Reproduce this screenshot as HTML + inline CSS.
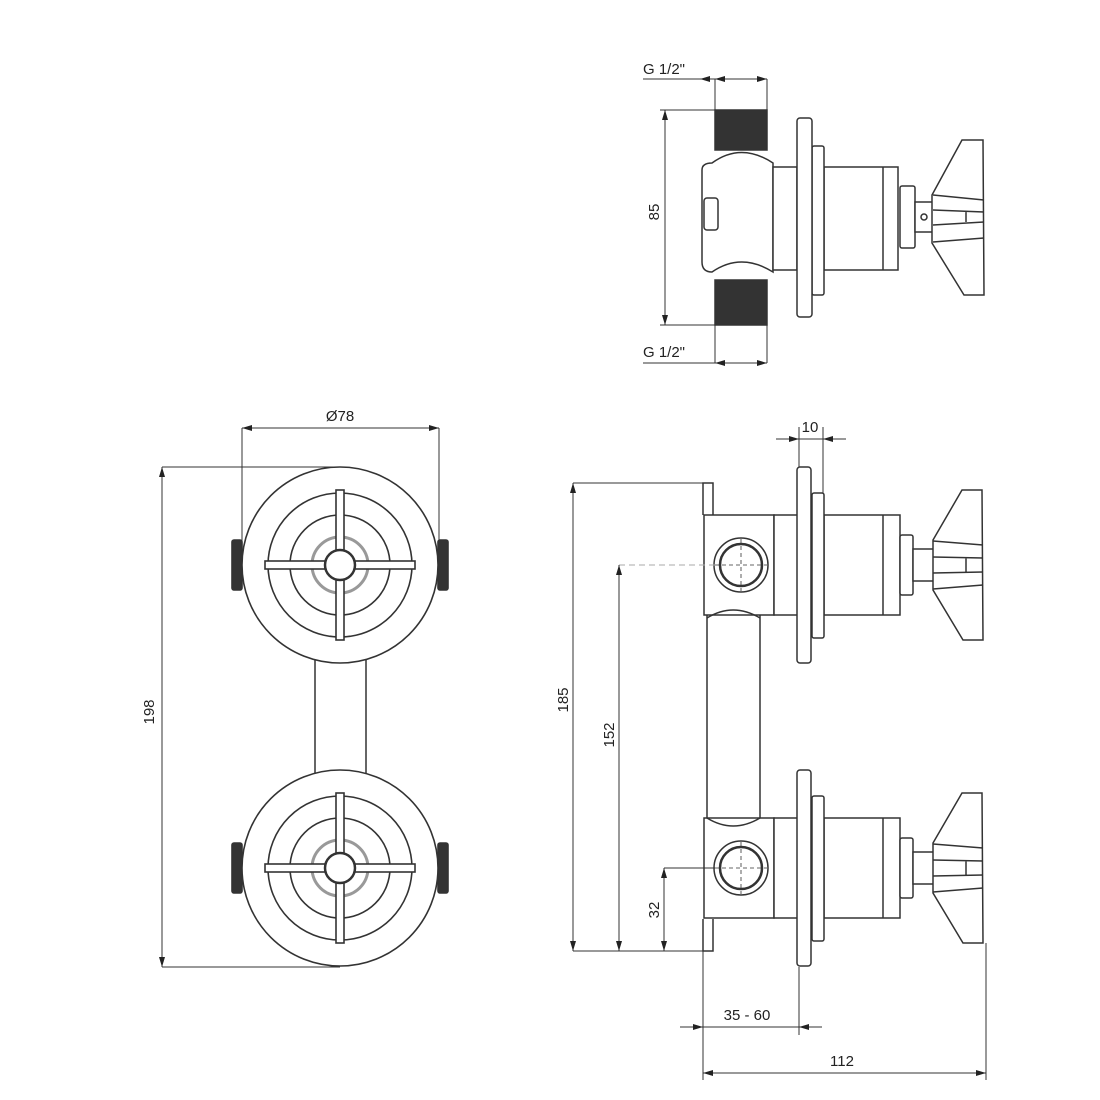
<!DOCTYPE html>
<html><head><meta charset="utf-8"><style>
html,body{margin:0;padding:0;background:#fff;width:1100px;height:1100px;overflow:hidden}
text{font-family:"Liberation Sans",sans-serif;font-size:15px;fill:#222}
</style></head><body>
<svg width="1100" height="1100" viewBox="0 0 1100 1100" xmlns="http://www.w3.org/2000/svg">
<defs>
<marker id="a" viewBox="0 0 10 6" refX="10" refY="3" markerWidth="10" markerHeight="6" orient="auto-start-reverse" markerUnits="userSpaceOnUse"><path d="M0,0 L10,3 L0,6z" fill="#222"/></marker>
<g id="knob" fill="none" stroke="#333" stroke-width="1.6">
<rect x="-108" y="-25" width="10" height="50" rx="2" fill="#333"/>
<rect x="98" y="-25" width="10" height="50" rx="2" fill="#333"/>
<circle r="98" fill="#fff"/>
<circle r="72"/>
<circle r="50"/>
<circle r="28" stroke="#999" stroke-width="3"/>
<rect x="-75" y="-4" width="150" height="8" fill="#fff"/>
<rect x="-4" y="-75" width="8" height="150" fill="#fff"/>
<circle r="15" fill="#fff" stroke-width="2.5"/>
</g>
<g id="valve" fill="#fff" stroke="#333" stroke-width="1.5">
<rect x="704" y="-50" width="70" height="100"/>
<circle cx="741" cy="0" r="27"/>
<circle cx="741" cy="0" r="21" stroke-width="2.5"/>
<line x1="715" y1="0" x2="767" y2="0" stroke-width="0.8" stroke-dasharray="4 3"/>
<line x1="741" y1="-26" x2="741" y2="26" stroke-width="0.8" stroke-dasharray="4 3"/>
<rect x="774" y="-50" width="24" height="100"/>
<rect x="824" y="-50" width="76" height="100"/>
<line x1="883" y1="-50" x2="883" y2="50"/>
<rect x="812" y="-72" width="12" height="145" rx="2"/>
<rect x="797" y="-98" width="14" height="196" rx="3"/>
<rect x="900" y="-30" width="13" height="60" rx="2"/>
<rect x="913" y="-16" width="24" height="32"/>
<path d="M933,-25 L962,-75 L982,-75 L983,75 L963,75 L933,25z"/>
<path d="M933,-24 L983,-20 M933,-8 L983,-7 M933,8 L983,7 M933,24 L983,20 M966,-7 L966,8" fill="none"/>
</g>
</defs>

<!-- TOP VIEW -->
<g fill="none" stroke="#333" stroke-width="1.5">
<rect x="715" y="110" width="52" height="40" fill="#333"/>
<rect x="715" y="280" width="52" height="45" fill="#333"/>
<path d="M702,170 Q702,163 712,163 Q741,142 773,163 L773,272 Q741,252 712,272 Q702,272 702,262z" fill="#fff"/>
<rect x="704" y="198" width="14" height="32" rx="3"/>
<rect x="773" y="167" width="24" height="103" fill="#fff"/>
<rect x="824" y="167" width="74" height="103" fill="#fff"/>
<line x1="883" y1="167" x2="883" y2="270"/>
<rect x="812" y="146" width="12" height="149" rx="2" fill="#fff"/>
<rect x="797" y="118" width="15" height="199" rx="3" fill="#fff"/>
<rect x="900" y="186" width="15" height="62" rx="2" fill="#fff"/>
<rect x="915" y="202" width="20" height="30" fill="#fff"/>
<circle cx="924" cy="217" r="3"/>
<path d="M932,195 L962,140 L983,140 L984,295 L964,295 L932,243z" fill="#fff"/>
<path d="M933,195 L984,200 M933,210 L984,212 M933,225 L984,222 M933,242 L984,238 M966,212 L966,222"/>
</g>
<g stroke="#333" stroke-width="1" fill="none">
<line x1="643" y1="79" x2="767" y2="79"/>
<line x1="715" y1="79" x2="700" y2="79" marker-end="url(#a)"/>
<line x1="715" y1="79" x2="730" y2="79" marker-start="url(#a)"/>
<line x1="767" y1="79" x2="752" y2="79" marker-start="url(#a)"/>
<line x1="715" y1="79" x2="715" y2="110"/><line x1="767" y1="79" x2="767" y2="110"/>
<line x1="643" y1="363" x2="767" y2="363"/>
<line x1="715" y1="363" x2="730" y2="363" marker-start="url(#a)"/>
<line x1="767" y1="363" x2="752" y2="363" marker-start="url(#a)"/>
<line x1="715" y1="325" x2="715" y2="363"/><line x1="767" y1="325" x2="767" y2="363"/>
<line x1="660" y1="110" x2="715" y2="110"/><line x1="660" y1="325" x2="715" y2="325"/>
<line x1="665" y1="110" x2="665" y2="325" marker-start="url(#a)" marker-end="url(#a)"/>
</g>
<text x="643" y="74">G 1/2"</text>
<text x="643" y="357">G 1/2"</text>
<text transform="translate(659,212) rotate(-90)" text-anchor="middle">85</text>

<!-- FRONT VIEW -->
<rect x="315" y="655" width="51" height="125" fill="#fff" stroke="#333" stroke-width="1.5"/>
<use href="#knob" transform="translate(340,565)"/>
<use href="#knob" transform="translate(340,868)"/>
<g stroke="#333" stroke-width="1" fill="none">
<line x1="242" y1="428" x2="439" y2="428" marker-start="url(#a)" marker-end="url(#a)"/>
<line x1="242" y1="428" x2="242" y2="545"/><line x1="439" y1="428" x2="439" y2="545"/>
<line x1="162" y1="467" x2="340" y2="467"/><line x1="162" y1="967" x2="340" y2="967"/>
<line x1="162" y1="467" x2="162" y2="967" marker-start="url(#a)" marker-end="url(#a)"/>
</g>
<text x="340" y="421" text-anchor="middle">Ø78</text>
<text transform="translate(154,712) rotate(-90)" text-anchor="middle">198</text>

<!-- SIDE VIEW -->
<g fill="#fff" stroke="#333" stroke-width="1.5">
<rect x="707" y="600" width="53" height="230"/>
<path d="M703,515 L703,483 L713,483 L713,515 M703,919 L703,951 L713,951 L713,919" fill="none"/>
</g>
<use href="#valve" transform="translate(0,565)"/>
<use href="#valve" transform="translate(0,868)"/>
<path d="M707,618 Q733,602 760,618 M707,818 Q733,834 760,818" fill="none" stroke="#333" stroke-width="1.5"/>
<g stroke="#333" stroke-width="1" fill="none">
<line x1="573" y1="483" x2="703" y2="483"/>
<line x1="573" y1="951" x2="703" y2="951"/>
<line x1="573" y1="483" x2="573" y2="951" marker-start="url(#a)" marker-end="url(#a)"/>
<line x1="619" y1="565" x2="715" y2="565" stroke="#aaa" stroke-dasharray="6 4"/>
<line x1="619" y1="565" x2="619" y2="951" marker-start="url(#a)" marker-end="url(#a)"/>
<line x1="664" y1="868" x2="715" y2="868"/>
<line x1="664" y1="868" x2="664" y2="951" marker-start="url(#a)" marker-end="url(#a)"/>
<line x1="799" y1="427" x2="799" y2="467"/><line x1="823" y1="427" x2="823" y2="493"/>
<line x1="776" y1="439" x2="799" y2="439" marker-end="url(#a)"/>
<line x1="846" y1="439" x2="823" y2="439" marker-end="url(#a)"/>
<line x1="799" y1="439" x2="823" y2="439"/>
<line x1="703" y1="951" x2="703" y2="1080"/>
<line x1="799" y1="967" x2="799" y2="1035"/>
<line x1="986" y1="943" x2="986" y2="1080"/>
<line x1="680" y1="1027" x2="703" y2="1027" marker-end="url(#a)"/>
<line x1="822" y1="1027" x2="799" y2="1027" marker-end="url(#a)"/>
<line x1="703" y1="1027" x2="799" y2="1027"/>
<line x1="703" y1="1073" x2="986" y2="1073" marker-start="url(#a)" marker-end="url(#a)"/>
</g>
<text x="810" y="432" text-anchor="middle">10</text>
<text transform="translate(568,700) rotate(-90)" text-anchor="middle">185</text>
<text transform="translate(614,735) rotate(-90)" text-anchor="middle">152</text>
<text transform="translate(659,910) rotate(-90)" text-anchor="middle">32</text>
<text x="747" y="1020" text-anchor="middle">35 - 60</text>
<text x="842" y="1066" text-anchor="middle">112</text>
</svg>
</body></html>
